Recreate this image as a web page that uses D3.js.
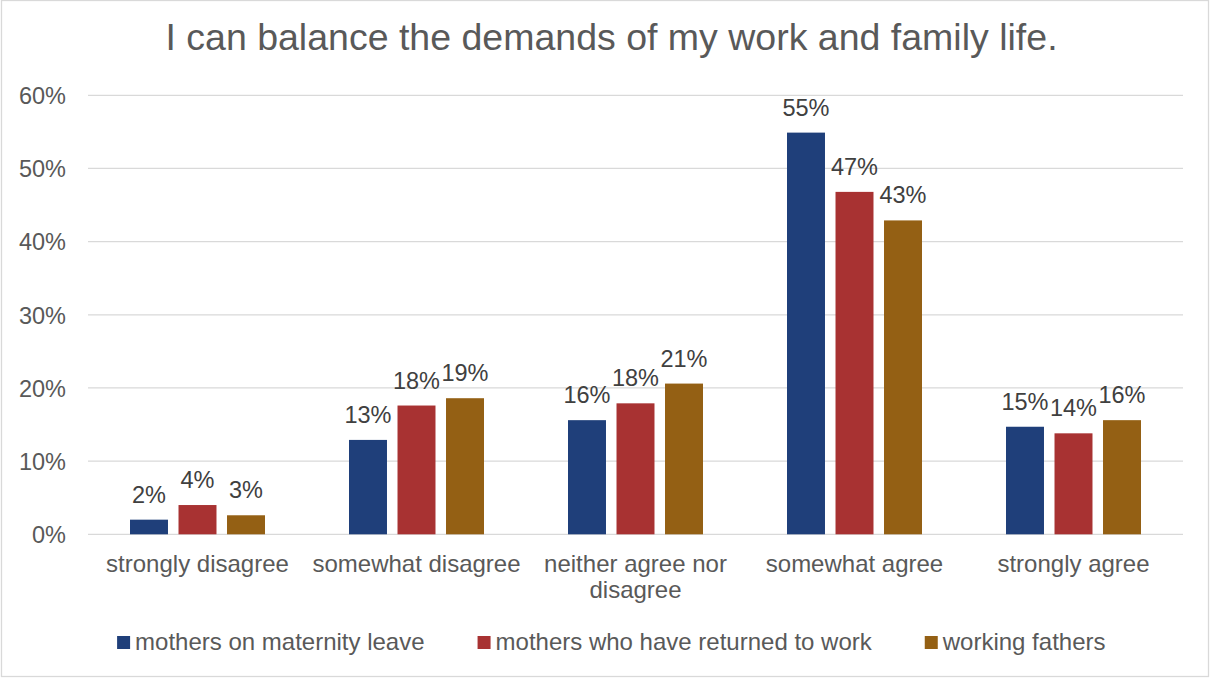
<!DOCTYPE html>
<html>
<head>
<meta charset="utf-8">
<script src="https://cdn.jsdelivr.net/npm/d3@7"></script>
<style>
  html, body { margin: 0; padding: 0; background: #fff; }
  svg { display: block; font-family: "Liberation Sans", Arial, sans-serif; }
</style>
</head>
<body>
<svg id="chart" width="1212" height="678"></svg>
<script>
// Survey answers and the share of each group choosing them
const categories = ["strongly disagree", "somewhat disagree", "neither agree nor disagree", "somewhat agree", "strongly agree"];
const seriesNames = ["mothers on maternity leave", "mothers who have returned to work", "working fathers"];
const maternityLeave = [0.020, 0.129, 0.156, 0.549, 0.147];
const returnedToWork = [0.040, 0.176, 0.179, 0.468, 0.138];
const workingFathers = [0.026, 0.186, 0.206, 0.429, 0.156];
const yTicks = [0, 0.1, 0.2, 0.3, 0.4, 0.5, 0.6];
const colors = ["#1f3f7a", "#a83232", "#946014"];
const title = "I can balance the demands of my work and family life.";

const series = [maternityLeave, returnedToWork, workingFathers];

const svg = d3.select("#chart");
const plot = { left: 88, right: 1183, top: 95.3, bottom: 534.3 };

// chart frame
svg.append("rect")
  .attr("x", 1.5).attr("y", 0.5)
  .attr("width", 1207).attr("height", 676)
  .attr("fill", "#fff").attr("stroke", "#d9d9d9").attr("stroke-width", 1.3);

// title
svg.append("text")
  .attr("x", 611.5).attr("y", 50)
  .attr("text-anchor", "middle")
  .attr("font-size", 37.5)
  .attr("fill", "#595959")
  .text(title);

const x0 = d3.scaleBand().domain(categories).range([plot.left, plot.right]).paddingInner(0).paddingOuter(0);
const x1 = d3.scaleBand().domain(d3.range(series.length)).range([0, x0.bandwidth()])
  .paddingInner(0.217).paddingOuter(0.866);
const y = d3.scaleLinear().domain([0, 0.6]).range([plot.bottom, plot.top]);

// gridlines
svg.append("g")
  .selectAll("line")
  .data(yTicks)
  .join("line")
  .attr("x1", plot.left).attr("x2", plot.right)
  .attr("y1", d => y(d)).attr("y2", d => y(d))
  .attr("stroke", "#d9d9d9").attr("stroke-width", 1.3);

// y axis labels
const yAxis = d3.axisLeft(y).tickValues(yTicks).tickFormat(d3.format(".0%")).tickSize(0).tickPadding(0);
const gy = svg.append("g").attr("transform", "translate(66,0)").call(yAxis);
gy.select(".domain").remove();
gy.selectAll("text")
  .attr("font-family", "Liberation Sans, Arial, sans-serif")
  .attr("font-size", 23.5)
  .attr("fill", "#595959")
  .attr("dy", "0.35em");

// bars
const groups = svg.append("g")
  .selectAll("g")
  .data(categories)
  .join("g")
  .attr("transform", d => `translate(${x0(d)},0)`);

const cells = groups.selectAll("g.cell")
  .data((c, ci) => series.map((s, si) => ({ si, v: s[ci] })))
  .join("g").attr("class", "cell");

cells.append("rect")
  .attr("x", d => x1(d.si))
  .attr("width", x1.bandwidth())
  .attr("y", d => y(d.v))
  .attr("height", d => y(0) - y(d.v))
  .attr("fill", d => colors[d.si]);

// data labels
cells.append("text")
  .attr("x", d => x1(d.si) + x1.bandwidth() / 2)
  .attr("y", d => y(d.v) - 17)
  .attr("text-anchor", "middle")
  .attr("font-size", 23.5)
  .attr("fill", "#404040")
  .text(d => d3.format(".0%")(d.v));

// category labels, wrapped to fit the band
const catG = svg.append("g");
const maxWidth = x0.bandwidth() - 8;
categories.forEach(c => {
  const cx = x0(c) + x0.bandwidth() / 2;
  const t = catG.append("text")
    .attr("x", cx)
    .attr("y", 572)
    .attr("text-anchor", "middle")
    .attr("font-size", 24)
    .attr("fill", "#595959");
  const words = c.split(" ");
  let line = [];
  let tspan = t.append("tspan").attr("x", cx).attr("dy", 0);
  words.forEach(w => {
    line.push(w);
    tspan.text(line.join(" "));
    if (tspan.node().getComputedTextLength() > maxWidth && line.length > 1) {
      line.pop();
      tspan.text(line.join(" "));
      line = [w];
      tspan = t.append("tspan").attr("x", cx).attr("dy", 26).text(w);
    }
  });
});

// legend, centred under the chart
const legend = svg.append("g");
const items = legend.selectAll("g").data(seriesNames).join("g");
items.append("rect")
  .attr("width", 13).attr("height", 13)
  .attr("y", 636)
  .attr("fill", (d, i) => colors[i]);
items.append("text")
  .attr("x", 18).attr("y", 650)
  .attr("font-size", 24)
  .attr("fill", "#595959")
  .text(d => d);
let offset = 0;
const positions = [];
items.each(function () {
  const w = 18 + d3.select(this).select("text").node().getComputedTextLength();
  positions.push(offset);
  offset += w + 53;
});
const total = offset - 53;
const start = 611.3 - total / 2;
items.attr("transform", (d, i) => `translate(${start + positions[i]},0)`);
</script>
</body>
</html>
